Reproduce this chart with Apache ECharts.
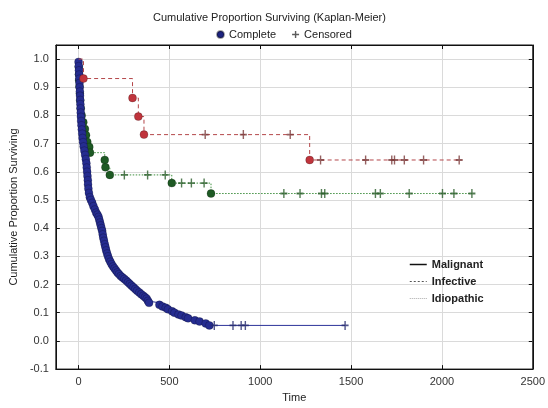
<!DOCTYPE html>
<html>
<head>
<meta charset="utf-8">
<script src="https://cdn.jsdelivr.net/npm/echarts@6/dist/echarts.min.js"></script>
<style>
    html, body { margin: 0; padding: 0; background: #fff; }
    #main { width: 548px; height: 408px; }
</style>
</head>
<body>
<div id="main"></div>
<script>
// Kaplan-Meier curves
// events = [time, cumulative proportion surviving] ; censored = times only
var malignantEvents = [
    [0, 0.99], [1, 0.975], [2, 0.96], [3, 0.945], [4, 0.93], [5, 0.915], [6, 0.90], [7, 0.885],
    [8, 0.87], [9, 0.855], [10, 0.84], [11, 0.825], [12, 0.81], [13, 0.795], [14, 0.78], [16, 0.765],
    [18, 0.75], [20, 0.735], [22, 0.72], [25, 0.705], [28, 0.69], [32, 0.675], [36, 0.66], [40, 0.645],
    [43, 0.63], [45, 0.615], [47, 0.60], [49, 0.585], [51, 0.57], [52, 0.555], [54, 0.54], [57, 0.525],
    [62, 0.51], [68, 0.50], [75, 0.49], [82, 0.478], [90, 0.466], [97, 0.455], [104, 0.448], [110, 0.44],
    [114, 0.43], [118, 0.42], [122, 0.41], [126, 0.40], [130, 0.39], [133, 0.378], [136, 0.366], [140, 0.355],
    [144, 0.343], [148, 0.332], [152, 0.321], [157, 0.31], [162, 0.30], [168, 0.29], [175, 0.281], [182, 0.272],
    [190, 0.264], [198, 0.257], [206, 0.25], [214, 0.243], [222, 0.237], [232, 0.23], [242, 0.225], [252, 0.22],
    [262, 0.214], [272, 0.208], [282, 0.202], [292, 0.196], [302, 0.19], [312, 0.184], [322, 0.178], [334, 0.172],
    [345, 0.166], [356, 0.16], [366, 0.155], [375, 0.15], [382, 0.142], [388, 0.135], [445, 0.128], [462, 0.122],
    [480, 0.118], [492, 0.112], [515, 0.105], [528, 0.10], [550, 0.094], [567, 0.09], [590, 0.084], [603, 0.08],
    [640, 0.073], [666, 0.069], [700, 0.062], [720, 0.055]
];
var malignantCensored = [747, 850, 895, 918, 1467];

var infectiveEvents = [[27, 0.931], [297, 0.862], [329, 0.796], [360, 0.732], [1272, 0.642]];
var infectiveCensored = [697, 907, 1165, 1332, 1580, 1724, 1739, 1793, 1899, 2095];

var idiopathicEvents = [
    [1, 0.972], [2, 0.946], [3, 0.925], [5, 0.903], [7, 0.878], [9, 0.853], [12, 0.826], [17, 0.80],
    [26, 0.776], [35, 0.752], [41, 0.73], [48, 0.706], [59, 0.688], [63, 0.668], [144, 0.642], [148, 0.616],
    [172, 0.589], [513, 0.56], [729, 0.523]
];
var idiopathicCensored = [252, 380, 477, 567, 621, 691, 1130, 1219, 1337, 1355, 1634, 1661, 1820, 2003, 2066, 2165];

var plusIcon = 'path://M4,0 h2 v4 h4 v2 h-4 v4 h-2 v-4 h-4 v-2 h4 z';

// level of the step curve at time t
function levelAt(events, t) {
    var s = 1;
    events.forEach(function (e) { if (e[0] <= t) s = e[1]; });
    return s;
}
function censorPoints(events, times) {
    return times.map(function (t) { return [t, levelAt(events, t)]; });
}
function curve(events, times) {
    var pts = [[0, 1]].concat(events, censorPoints(events, times));
    return pts.sort(function (a, b) { return a[0] - b[0]; });
}

var groups = [
    { name: 'Idiopathic', events: idiopathicEvents, censored: idiopathicCensored,
      color: '#3f8f3f', mark: '#1e5a24', censorColor: '#2b5e2b', line: [1.5, 1.5], z: 2 },
    { name: 'Malignant', events: malignantEvents, censored: malignantCensored,
      color: '#2c3399', mark: '#252c90', censorColor: '#262a6e', line: 'solid', z: 3 },
    { name: 'Infective', events: infectiveEvents, censored: infectiveCensored,
      color: '#b4474a', mark: '#c0343c', censorColor: '#7a3a3a', line: [4, 3], z: 4 }
];

var series = [];
groups.forEach(function (g) {
    series.push({
        name: g.name,
        type: 'line',
        step: 'end',
        symbol: 'none',
        z: g.z,
        data: curve(g.events, g.censored),
        lineStyle: { color: g.color, width: 1, type: g.line },
        itemStyle: { color: g.color }
    });
    series.push({
        name: 'Complete',
        type: 'scatter',
        symbol: 'circle',
        symbolSize: 8,
        z: g.z,
        data: g.events,
        itemStyle: { color: g.mark, borderColor: 'rgba(0,0,0,0.35)', borderWidth: 0.6, opacity: 1 }
    });
    series.push({
        name: 'Censored',
        type: 'scatter',
        symbol: plusIcon,
        symbolSize: [7, 9],
        z: g.z + 1,
        data: censorPoints(g.events, g.censored),
        itemStyle: { color: g.censorColor }
    });
});

var font = 'Liberation Sans';
var myChart = echarts.init(document.getElementById('main'));
var option = {
    animation: false,
    backgroundColor: '#fff',
    textStyle: { fontFamily: font },
    title: {
        text: 'Cumulative Proportion Surviving (Kaplan-Meier)',
        left: 148,
        top: 7,
        textStyle: { fontSize: 11, fontWeight: 'normal', color: '#222', fontFamily: font }
    },
    legend: [
        {
            left: 211,
            top: 24,
            itemGap: 16,
            itemWidth: 7,
            itemHeight: 7,
            selectedMode: false,
            textStyle: { fontSize: 11, color: '#222', fontFamily: font },
            data: [
                { name: 'Complete', icon: 'circle', itemStyle: { color: '#1d2380' } },
                { name: 'Censored', icon: plusIcon, itemStyle: { color: '#333' } }
            ]
        },
        {
            left: 404,
            top: 254,
            orient: 'vertical',
            itemGap: 6,
            itemWidth: 17,
            itemHeight: 10,
            selectedMode: false,
            textStyle: { fontSize: 11, fontWeight: 'bold', color: '#222', fontFamily: font },
            data: [
                { name: 'Malignant', itemStyle: { opacity: 0 }, lineStyle: { color: '#111', type: 'solid', width: 1.5 } },
                { name: 'Infective', itemStyle: { opacity: 0 }, lineStyle: { color: '#555', type: [2, 2], width: 1 } },
                { name: 'Idiopathic', itemStyle: { opacity: 0 }, lineStyle: { color: '#aaa', type: [1, 1], width: 1 } }
            ]
        }
    ],
    grid: {
        left: 52, right: 11, top: 45, bottom: 36,
        show: true, borderColor: '#111', borderWidth: 1
    },
    xAxis: [
        {
            type: 'value',
            min: -125,
            max: 2500,
            splitNumber: 5,
            name: 'Time',
            nameLocation: 'middle',
            nameGap: 22,
            nameTextStyle: { fontSize: 11, color: '#222' },
            axisLine: { onZero: false, lineStyle: { color: '#111' } },
            axisTick: { inside: true, length: 4, lineStyle: { color: '#111' } },
            axisLabel: {
                showMinLabel: false, fontSize: 11, color: '#333', margin: 7,
                formatter: function (v) { return String(v); }
            },
            splitLine: { lineStyle: { color: '#dadada' } }
        },
        {
            type: 'value', position: 'top',
            min: -125, max: 2500, splitNumber: 5,
            axisLine: { onZero: false, lineStyle: { color: '#111' } },
            axisTick: { inside: true, length: 4, lineStyle: { color: '#111' } },
            axisLabel: { show: false },
            splitLine: { show: false }
        }
    ],
    yAxis: [
        {
            type: 'value',
            min: -0.1,
            max: 1.05,
            interval: 0.1,
            name: 'Cumulative Proportion Surviving',
            nameLocation: 'middle',
            nameGap: 34,
            nameTextStyle: { fontSize: 11, color: '#222' },
            axisLine: { show: true, onZero: false, lineStyle: { color: '#111' } },
            axisTick: { show: true, inside: true, length: 4, lineStyle: { color: '#111' } },
            axisLabel: {
                showMaxLabel: false, fontSize: 11, color: '#333', margin: 7,
                formatter: function (v) { return v.toFixed(1); }
            },
            splitLine: { lineStyle: { color: '#dadada' } }
        },
        {
            type: 'value', position: 'right',
            min: -0.1, max: 1.05, interval: 0.1,
            axisLine: { show: true, onZero: false, lineStyle: { color: '#111' } },
            axisTick: { show: true, inside: true, length: 4, lineStyle: { color: '#111' } },
            axisLabel: { show: false },
            splitLine: { show: false }
        }
    ],
    series: series
};
myChart.setOption(option);
</script>
</body>
</html>
